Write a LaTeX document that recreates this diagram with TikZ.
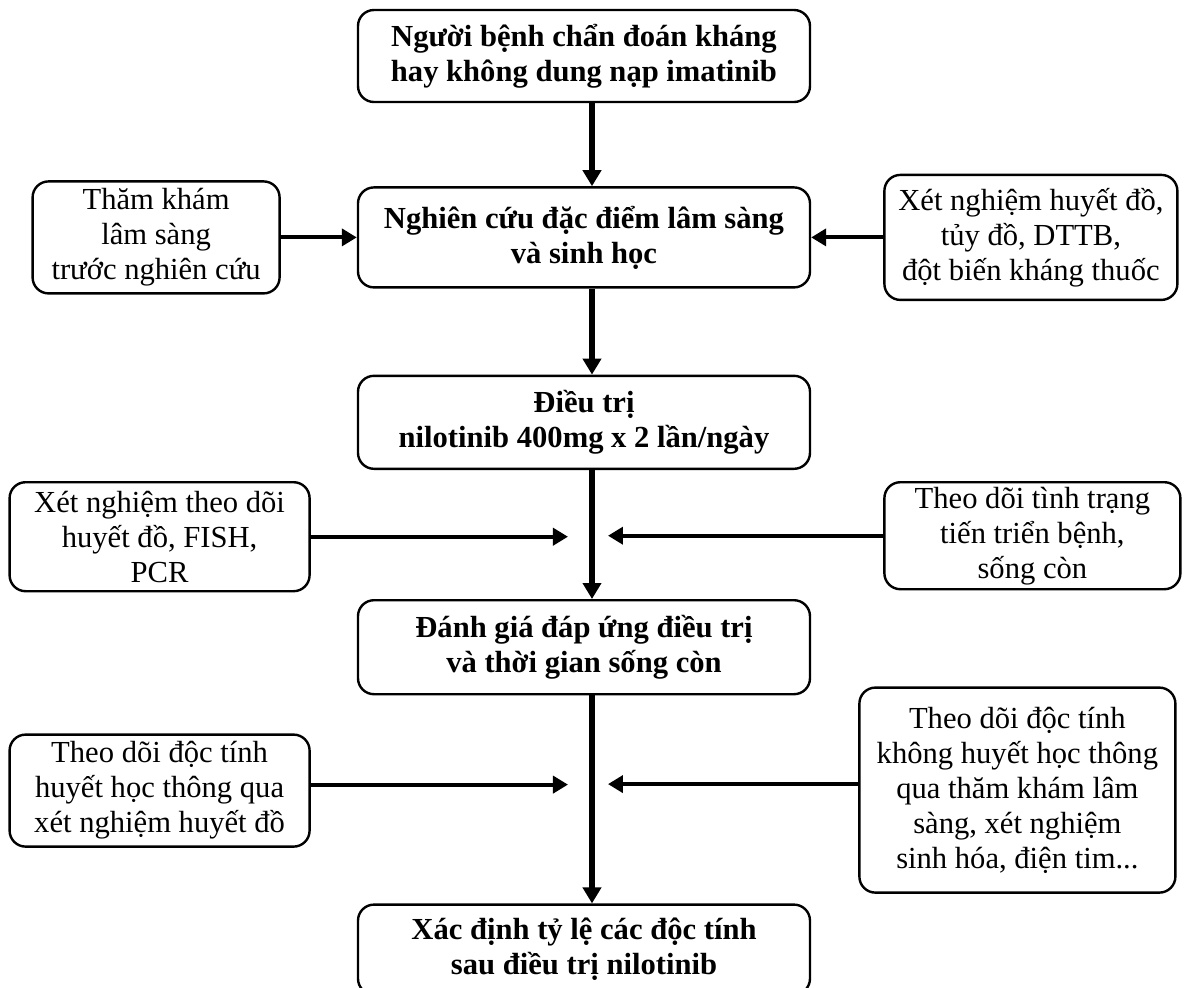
\documentclass[tikz,border=0pt]{standalone}
\usepackage{fontspec}
\setmainfont{Liberation Serif}
\usetikzlibrary{positioning,arrows.meta}

\tikzset{
  box/.style={draw, line width=1.2pt, rounded corners=8pt, align=center, inner sep=2pt,
    font=\fontsize{15.3}{17.5}\selectfont},
  mainbox/.style={box, minimum width=226pt, minimum height=47pt,
    font=\fontsize{15.3}{17.5}\selectfont\bfseries},
  sidebox/.style={box},
  mainarrow/.style={line width=3pt, -{Triangle[width=9pt,length=8pt]}},
  sidearrow/.style={line width=2pt, -{Triangle[width=8.5pt,length=7.5pt]}},
}

\begin{document}
\begin{tikzpicture}
  \fill[white, use as bounding box] (-292pt,28pt) rectangle (300.5pt,-465.5pt);

  % main column
  \node[mainbox, minimum height=46pt] (m1) {Người bệnh chẩn đoán kháng\\hay không dung nạp imatinib};
  \node[mainbox, minimum height=50pt, below=41.5pt of m1] (m2) {Nghiên cứu đặc điểm lâm sàng\\và sinh học};
  \node[mainbox, minimum height=46.5pt, below=43pt of m2] (m3) {Điều trị\\nilotinib 400mg x 2 lần/ngày};
  \node[mainbox, minimum height=47pt, below=64.5pt of m3] (m4) {Đánh giá đáp ứng điều trị\\và thời gian sống còn};
  \node[mainbox, minimum height=45pt, below=104pt of m4] (m5) {Xác định tỷ lệ các độc tính\\sau điều trị nilotinib};

  % side boxes
  \node[sidebox, minimum width=123.5pt, minimum height=56pt, left=38pt of m2] (l1) {Thăm khám\\lâm sàng\\trước nghiên cứu};
  \node[sidebox, minimum width=146.5pt, minimum height=62.5pt, right=36pt of m2] (r1) {Xét nghiệm huyết đồ,\\tủy đồ, DTTB,\\đột biến kháng thuốc};
  \node[sidebox, minimum width=150pt, minimum height=54.5pt, below left=5.5pt and 23pt of m3] (l2) {Xét nghiệm theo dõi\\huyết đồ, FISH,\\PCR};
  \node[sidebox, minimum width=148pt, minimum height=53.5pt, below right=5.5pt and 36pt of m3] (r2) {Theo dõi tình trạng\\tiến triển bệnh,\\sống còn};
  \node[sidebox, minimum width=150pt, minimum height=56pt, below left=19pt and 23pt of m4] (l3) {Theo dõi độc tính\\huyết học thông qua\\xét nghiệm huyết đồ};
  \node[sidebox, minimum width=158pt, minimum height=102.5pt, below right=-4.5pt and 23.5pt of m4] (r3) {Theo dõi độc tính\\không huyết học thông\\qua thăm khám lâm\\sàng, xét nghiệm\\sinh hóa, điện tim...};

  % arrows
  \draw[mainarrow] ([xshift=4pt]m1.south) -- ([xshift=4pt]m2.north);
  \draw[mainarrow] ([xshift=4pt]m2.south) -- ([xshift=4pt]m3.north);
  \draw[mainarrow] ([xshift=4pt]m3.south) -- ([xshift=4pt]m4.north);
  \draw[mainarrow] ([xshift=4pt]m4.south) -- ([xshift=4pt]m5.north);
  \draw[sidearrow] (l1.east) -- (l1.east -| m2.west);
  \draw[sidearrow] (r1.west) -- (r1.west -| m2.east);
  \draw[sidearrow] (l2.east) -- ([xshift=-8pt]l2.east -| m3.south);
  \draw[sidearrow] (r2.west) -- ([xshift=12pt]r2.west -| m3.south);
  \draw[sidearrow] ([yshift=3pt]l3.east) -- ([xshift=-8pt,yshift=3pt]l3.east -| m4.south);
  \draw[sidearrow] ([yshift=3pt]r3.west) -- ([xshift=12pt,yshift=3pt]r3.west -| m4.south);
\end{tikzpicture}
\end{document}
